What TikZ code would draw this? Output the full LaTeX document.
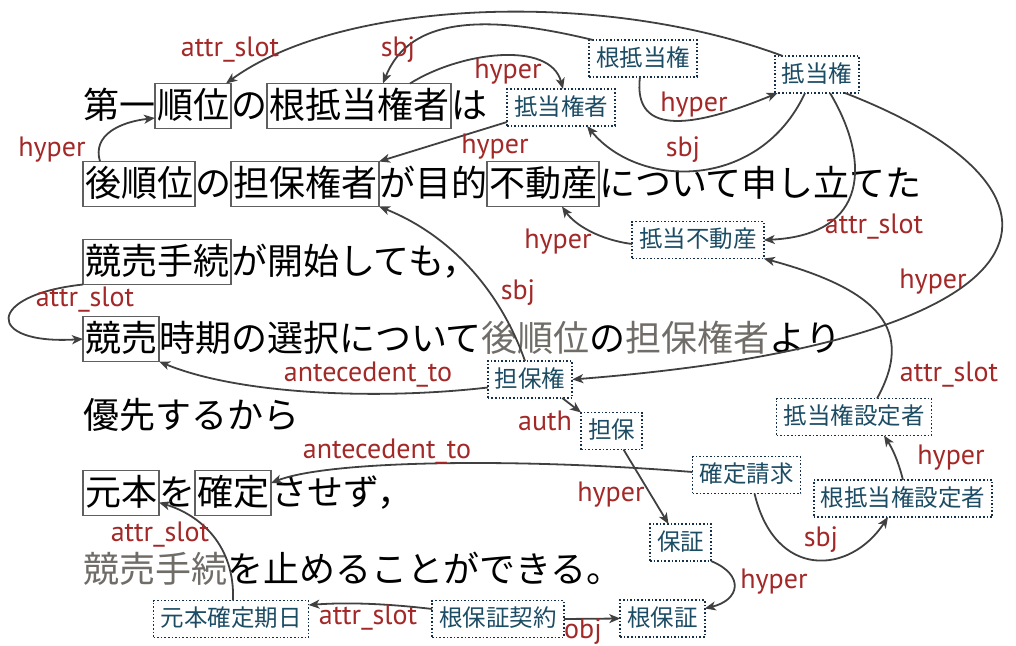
\documentclass[tikz,border=0pt]{standalone}
\usepackage{fontspec}
\newfontfamily\jp{Noto Sans CJK JP}
\newfontfamily\lab{PT Sans}
\usetikzlibrary{arrows.meta}
\definecolor{labred}{RGB}{163,40,40}
\definecolor{edgegray}{RGB}{64,64,64}
\definecolor{boxgray}{RGB}{95,95,95}
\definecolor{graytxt}{RGB}{112,108,104}
\definecolor{cborder}{RGB}{22,48,74}
\definecolor{ctext}{RGB}{28,76,100}
\begin{document}
\begin{tikzpicture}[x=1pt,y=-1pt,
  txt/.style={font=\jp\fontsize{36}{40}\selectfont, inner xsep=0pt, inner ysep=2pt, text height=33pt, text depth=8pt, outer sep=0pt, anchor=west},
  wbox/.style={txt, draw=boxgray, line width=1.5pt, inner xsep=2pt},
  gtxt/.style={txt, text=graytxt},
  concept/.style={font=\jp\fontsize{23.5}{26}\selectfont, text=ctext, draw=cborder, line width=1.6pt, dotted, inner xsep=7pt, inner ysep=7pt, text height=19pt, text depth=4pt, outer sep=0pt},
  rel/.style={font=\lab\fontsize{28}{30}\selectfont, text=labred, inner sep=0pt},
  edge/.style={draw=edgegray, line width=1.8pt, -{Stealth[length=11pt,width=9pt,inset=3pt]}},
]
\useasboundingbox (0,0) rectangle (1016,645);
% ---- line 1
\node[txt] (l1a) at (83,106) {第一};
\node[wbox] (bjun) at (l1a.east) {順位};
\node[txt] (l1b) at (bjun.east) {の};
\node[wbox] (bntk) at (l1b.east) {根抵当権者};
\node[txt] (l1c) at (bntk.east) {は};
% ---- line 2
\node[wbox] (bkjun) at (83,184) {後順位};
\node[txt] (l2a) at (bkjun.east) {の};
\node[wbox] (btph) at (l2a.east) {担保権者};
\node[txt] (l2b) at (btph.east) {が目的};
\node[wbox] (bfds) at (l2b.east) {不動産};
\node[txt] (l2c) at (bfds.east) {について申し立てた};
% ---- line 3
\node[wbox] (bkbt) at (83,262) {競売手続};
\node[txt] (l3a) at (bkbt.east) {が開始しても，};
% ---- line 4
\node[wbox] (bkb) at (83,339) {競売};
\node[txt] (l4a) at (bkb.east) {時期の選択について};
\node[gtxt] (l4b) at (l4a.east) {後順位};
\node[txt] (l4c) at (l4b.east) {の};
\node[gtxt] (l4d) at (l4c.east) {担保権者};
\node[txt] (l4e) at (l4d.east) {より};
% ---- line 5
\node[txt] (l5a) at (83,416) {優先するから};
% ---- line 6
\node[wbox] (bgh) at (83,493) {元本};
\node[txt] (l6a) at (bgh.east) {を};
\node[wbox] (bkt) at (l6a.east) {確定};
\node[txt] (l6b) at (bkt.east) {させず，};
% ---- line 7
\node[gtxt] (l7a) at (83,570) {競売手続};
\node[txt] (l7b) at (l7a.east) {を止めることができる。};
% ---- concepts
\node[concept] (nte) at (643,58.5) {根抵当権};
\node[concept] (tk) at (817,74.5) {抵当権};
\node[concept] (tks) at (561,107.5) {抵当権者};
\node[concept] (tfd) at (698,240) {抵当不動産};
\node[concept] (tph) at (530,379.5) {担保権};
\node[concept] (tp) at (611.5,431) {担保};
\node[concept] (kts) at (746.5,475) {確定請求};
\node[concept] (tkss) at (854,417) {抵当権設定者};
\node[concept] (ntkss) at (903,498.5) {根抵当権設定者};
\node[concept] (hs) at (680.5,542.5) {保証};
\node[concept] (nhs) at (662.5,618.5) {根保証};
\node[concept] (nhsk) at (498,619) {根保証契約};
\node[concept] (gkk) at (231,619) {元本確定期日};
% ---- edges
\draw[edge] ([xshift=8pt]tk.north west) .. controls (600,-12) and (340,0) .. ([xshift=-5pt]bjun.north east);
\draw[edge] ([xshift=4pt]nte.north west) .. controls (490,15) and (410,15) .. ([xshift=24pt]bntk.north);
\draw[edge] ([xshift=-41pt]bntk.north east) .. controls (460,52) and (550,40) .. ([xshift=2pt]tks.north);
\draw[edge] ([xshift=-3pt]nte.south) .. controls (632,140) and (700,125) .. ([xshift=3pt]tk.south west);
\draw[edge] ([xshift=-12pt]tk.south) .. controls (760,190) and (640,190) .. ([xshift=-28pt]tks.south east);
\draw[edge] ([yshift=4pt]tks.south west) -- (btph.north east);
\draw[edge] ([xshift=17pt]bkjun.north west) .. controls (92,135) and (120,122) .. ([yshift=-12pt]bjun.west);
\draw[edge] ([xshift=13pt]tk.south) .. controls (870,160) and (870,235) .. (tfd.east);
\draw[edge] ([yshift=-4pt]tfd.west) .. controls (600,240) and (575,225) .. ([xshift=19pt]bfds.south);
\draw[edge] ([xshift=28pt]tk.south) .. controls (1095,190) and (1075,340) .. (tph.east);
\draw[edge] ([xshift=-5pt]tph.north) .. controls (500,290) and (450,235) .. (btph.south east);
\draw[edge] ([yshift=-8pt]tph.west) .. controls (380,400) and (240,395) .. (bkb.south east);
\draw[edge] (bkbt.south west) .. controls (-15,295) and (-15,345) .. (bkb.west);
\draw[edge] ([xshift=23pt]tkss.north) .. controls (915,330) and (880,290) .. (tfd.south east);
\draw[edge] ([xshift=-10pt]tph.south east) -- (tp.north west);
\draw[edge] ([xshift=12pt]tp.south) -- ([xshift=-12pt]hs.north);
\draw[edge] ([yshift=3pt]kts.west) .. controls (520,458) and (330,460) .. ([yshift=10pt]bkt.east);
\draw[edge] ([xshift=8pt]kts.south) .. controls (775,580) and (850,575) .. ([xshift=-15pt]ntkss.south);
\draw[edge] (ntkss.north) .. controls (898,460) and (892,448) .. ([xshift=30pt]tkss.south);
\draw[edge] (hs.south east) .. controls (745,575) and (740,600) .. ([yshift=10pt]nhs.east);
\draw[edge] (nhsk.east) -- (nhs.west);
\draw[edge] ([yshift=10pt]nhsk.west) .. controls (390,604) and (350,602) .. ([yshift=14pt]gkk.east);
\draw[edge] ([xshift=2pt]gkk.north) .. controls (235,545) and (200,515) .. ([yshift=13pt]bgh.south east);
% ---- relation labels
\node[rel] (r1) at (230,50) {attr\_slot};
\node[rel] (r2) at (398,50) {sbj};
\node[rel] (r3) at (508,72) {hyper};
\node[rel] (r4) at (694,105) {hyper};
\node[rel] (r5) at (683,150) {sbj};
\node[rel] (r6) at (495,147) {hyper};
\node[rel] (r7) at (52,150) {hyper};
\node[rel] (r8) at (874,227) {attr\_slot};
\node[rel] (r9) at (558,242) {hyper};
\node[rel] (r10) at (933,282) {hyper};
\node[rel] (r11) at (518,293) {sbj};
\node[rel] (r12) at (85,300) {attr\_slot};
\node[rel] (r13) at (368,375) {antecedent\_to};
\node[rel] (r14) at (949,375) {attr\_slot};
\node[rel] (r15) at (545,421) {auth};
\node[rel] (r16) at (611,495) {hyper};
\node[rel] (r17) at (387,452) {antecedent\_to};
\node[rel] (r18) at (951,458) {hyper};
\node[rel] (r19) at (821,540) {sbj};
\node[rel] (r20) at (774,582) {hyper};
\node[rel] (r21) at (583,632) {obj};
\node[rel] (r22) at (368,618) {attr\_slot};
\node[rel] (r23) at (160,535) {attr\_slot};
\end{tikzpicture}
\end{document}
